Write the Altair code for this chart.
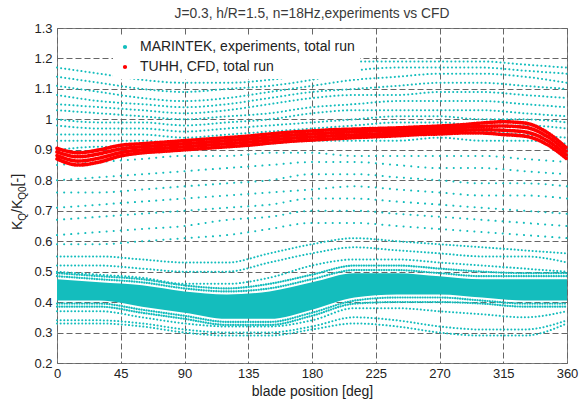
import altair as alt
import pandas as pd

# ---------------- data ----------------
deg30 = [0, 30, 60, 90, 120, 150, 180, 210, 240, 270, 300, 330, 360]
deg15 = [0, 15, 30, 45, 60, 75, 90, 105, 120, 135, 150, 165, 180,
         195, 210, 225, 240, 255, 270, 285, 300, 315, 330, 345, 360]

# MARINTEK experiments: upper group of tracks (blade position every 30 deg)
upper_tracks = {
    "U1":  [1.17, 1.15, 1.13, 1.12, 1.12, 1.13, 1.15, 1.19, 1.19, 1.19, 1.19, 1.18, 1.17],
    "U2":  [1.14, 1.12, 1.10, 1.09, 1.10, 1.11, 1.13, 1.16, 1.17, 1.17, 1.17, 1.16, 1.15],
    "U3":  [1.11, 1.09, 1.07, 1.06, 1.07, 1.09, 1.11, 1.13, 1.14, 1.15, 1.15, 1.14, 1.12],
    "U4":  [1.08, 1.06, 1.05, 1.04, 1.05, 1.07, 1.09, 1.10, 1.11, 1.12, 1.12, 1.11, 1.10],
    "U5":  [1.05, 1.04, 1.03, 1.02, 1.03, 1.05, 1.07, 1.08, 1.08, 1.09, 1.09, 1.08, 1.07],
    "U6":  [1.03, 1.02, 1.01, 1.00, 1.01, 1.02, 1.04, 1.05, 1.06, 1.06, 1.06, 1.05, 1.04],
    "U7":  [1.00, 0.99, 0.99, 0.98, 0.99, 1.00, 1.02, 1.03, 1.03, 1.03, 1.03, 1.02, 1.01],
    "U8":  [0.98, 0.97, 0.97, 0.96, 0.97, 0.98, 0.99, 1.00, 1.01, 1.01, 1.00, 1.00, 0.99],
    "U9":  [0.95, 0.95, 0.95, 0.94, 0.95, 0.96, 0.97, 0.98, 0.99, 0.99, 0.98, 0.98, 0.97],
    "U10": [0.93, 0.93, 0.93, 0.92, 0.93, 0.94, 0.95, 0.96, 0.96, 0.96, 0.96, 0.95, 0.94],
    "U11": [0.90, 0.91, 0.91, 0.90, 0.91, 0.92, 0.93, 0.93, 0.93, 0.94, 0.93, 0.93, 0.92],
}
# MARINTEK experiments: sparse middle tracks
middle_tracks = {
    "M1": [0.85, 0.86, 0.87, 0.88, 0.88, 0.89, 0.89, 0.88, 0.88, 0.88, 0.88, 0.87, 0.86],
    "M2": [0.80, 0.81, 0.82, 0.83, 0.84, 0.85, 0.86, 0.86, 0.85, 0.84, 0.84, 0.83, 0.82],
    "M3": [0.76, 0.76, 0.77, 0.78, 0.79, 0.80, 0.82, 0.82, 0.81, 0.80, 0.79, 0.79, 0.78],
    "M4": [0.71, 0.72, 0.73, 0.74, 0.75, 0.76, 0.77, 0.78, 0.77, 0.76, 0.75, 0.75, 0.74],
    "M5": [0.67, 0.68, 0.69, 0.70, 0.71, 0.72, 0.74, 0.74, 0.73, 0.72, 0.71, 0.70, 0.69],
    "M6": [0.62, 0.63, 0.64, 0.65, 0.67, 0.68, 0.70, 0.70, 0.69, 0.68, 0.67, 0.66, 0.65],
    "M7": [0.59, 0.59, 0.60, 0.61, 0.62, 0.64, 0.66, 0.66, 0.65, 0.64, 0.63, 0.62, 0.61],
}
# MARINTEK experiments: fringe of the dense lower band
lower_tracks = {
    "L0": [0.55, 0.55, 0.54, 0.53, 0.53, 0.56, 0.59, 0.61, 0.60, 0.59, 0.58, 0.57, 0.56],
    "L1": [0.52, 0.52, 0.51, 0.50, 0.50, 0.53, 0.56, 0.58, 0.57, 0.56, 0.55, 0.55, 0.53],
    "L2": [0.50, 0.49, 0.48, 0.46, 0.46, 0.48, 0.52, 0.54, 0.54, 0.53, 0.52, 0.51, 0.50],
    "B1": [0.37, 0.37, 0.35, 0.33, 0.32, 0.32, 0.34, 0.38, 0.38, 0.37, 0.36, 0.35, 0.37],
    "B2": [0.34, 0.34, 0.33, 0.31, 0.30, 0.30, 0.32, 0.35, 0.34, 0.32, 0.31, 0.31, 0.34],
    "B3": [0.33, 0.33, 0.32, 0.30, 0.29, 0.29, 0.31, 0.33, 0.32, 0.30, 0.29, 0.29, 0.33],
}
# edges of the dense lower band (densely dotted)
edge_tracks = {
    "E1": [0.485, 0.475, 0.465, 0.445, 0.435, 0.445, 0.475, 0.505, 0.505, 0.495, 0.485, 0.485, 0.485],
    "E2": [0.495, 0.485, 0.475, 0.455, 0.445, 0.460, 0.490, 0.520, 0.520, 0.510, 0.500, 0.495, 0.495],
    "E3": [0.395, 0.395, 0.375, 0.355, 0.335, 0.335, 0.365, 0.405, 0.415, 0.415, 0.405, 0.395, 0.395],
    "E4": [0.385, 0.385, 0.365, 0.345, 0.325, 0.325, 0.355, 0.395, 0.400, 0.400, 0.395, 0.385, 0.385],
}
# dense core of the lower band
band_upper = [0.475, 0.465, 0.455, 0.435, 0.425, 0.435, 0.465, 0.495, 0.495, 0.485, 0.475, 0.475, 0.475]
band_lower = [0.405, 0.405, 0.385, 0.365, 0.345, 0.345, 0.375, 0.415, 0.425, 0.425, 0.415, 0.405, 0.405]

# TUHH CFD (blade position every 15 deg)
red_tracks = {
    "R1": [0.905, 0.890, 0.900, 0.915, 0.920, 0.925, 0.930, 0.935, 0.940, 0.945, 0.952, 0.958, 0.962,
           0.966, 0.968, 0.970, 0.972, 0.975, 0.978, 0.982, 0.988, 0.992, 0.988, 0.960, 0.905],
    "R2": [0.893, 0.877, 0.887, 0.903, 0.910, 0.915, 0.920, 0.925, 0.930, 0.935, 0.942, 0.948, 0.952,
           0.956, 0.959, 0.962, 0.964, 0.967, 0.970, 0.973, 0.977, 0.978, 0.974, 0.947, 0.893],
    "R3": [0.881, 0.863, 0.873, 0.891, 0.900, 0.905, 0.910, 0.915, 0.920, 0.925, 0.932, 0.938, 0.942,
           0.946, 0.949, 0.952, 0.955, 0.958, 0.961, 0.964, 0.966, 0.964, 0.959, 0.933, 0.881],
    "R4": [0.870, 0.850, 0.860, 0.880, 0.890, 0.895, 0.900, 0.905, 0.910, 0.915, 0.922, 0.928, 0.932,
           0.936, 0.940, 0.943, 0.946, 0.950, 0.952, 0.955, 0.955, 0.950, 0.945, 0.920, 0.870],
}

series_names = ["MARINTEK, experiments, total run", "TUHH, CFD, total run"]
series_colors = ["#14BDBD", "#FF0000"]
x_ticks = [0, 45, 90, 135, 180, 225, 270, 315, 360]
y_ticks = [0.2, 0.3, 0.4, 0.5, 0.6, 0.7, 0.8, 0.9, 1, 1.1, 1.2, 1.3]
title_text = "J=0.3, h/R=1.5, n=18Hz,experiments vs CFD"
x_title = "blade position [deg]"

FONT = "Liberation Sans"


def tracks_df(tracks, xs, source):
    rows = []
    for name, vals in tracks.items():
        for d, v in zip(xs, vals):
            rows.append({"deg": d, "val": v, "track": name, "source": source})
    return pd.DataFrame(rows)


upper_df = tracks_df(upper_tracks, deg30, series_names[0])
middle_df = tracks_df(middle_tracks, deg30, series_names[0])
lower_df = tracks_df(lower_tracks, deg30, series_names[0])
edge_df = tracks_df(edge_tracks, deg30, series_names[0])
red_df = tracks_df(red_tracks, deg15, series_names[1])
band_df = pd.DataFrame({"deg": deg30, "lo": band_lower, "hi": band_upper})

x_scale = alt.Scale(domain=[0, 360], nice=False)
y_scale = alt.Scale(domain=[0.2, 1.3], nice=False, zero=False)
x_axis = alt.Axis(values=x_ticks, title=x_title, format="d",
                  labelOverlap=False, labelFlush=False)
y_axis = alt.Axis(values=y_ticks, title=None, format="~g",
                  labelOverlap=False, labelFlush=False)

x_enc = alt.X("deg:Q", scale=x_scale, axis=x_axis)
y_enc = alt.Y("val:Q", scale=y_scale, axis=y_axis)
color_enc = alt.Color(
    "source:N",
    scale=alt.Scale(domain=series_names, range=series_colors),
    legend=alt.Legend(
        title=None, orient="none", legendX=56, legendY=7,
        fillColor="white", padding=5, rowPadding=6,
        labelFont=FONT, labelFontSize=14, labelColor="#222222", labelLimit=400,
        labelOffset=8, symbolType="circle", symbolSize=5, symbolStrokeWidth=2,
    ),
)

band = alt.Chart(band_df).mark_area(color="#14BDBD", interpolate="monotone").encode(
    x=alt.X("deg:Q", scale=x_scale, axis=x_axis),
    y=alt.Y("lo:Q", scale=y_scale, axis=y_axis),
    y2="hi:Q",
)


def dotted(df, width, dash):
    return alt.Chart(df).mark_line(
        strokeWidth=width, strokeDash=dash, strokeCap="round", interpolate="monotone"
    ).encode(x=x_enc, y=y_enc, detail="track:N", color=color_enc)


upper = dotted(upper_df, 2, [0.1, 4])
middle = dotted(middle_df, 2, [0.1, 7])
lower = dotted(lower_df, 2, [0.1, 3.5])
edges = dotted(edge_df, 2.2, [0.1, 2.4])
red = dotted(red_df, 3.6, [1.0, 1.6])


def label(t, size, xpx, ypx, angle=270, align="left", color="#222222"):
    return alt.Chart(pd.DataFrame({"t": [t]})).mark_text(
        angle=angle, align=align, baseline="alphabetic", fontSize=size,
        font=FONT, color=color
    ).encode(x=alt.value(xpx), y=alt.value(ypx), text="t:N")


ytitle = (label("K", 14, -35, 202) + label("Q", 10, -31, 192.7)
          + label("/K", 14, -35, 184.9) + label("Q0", 10, -31, 171.7)
          + label(" [-]", 14, -35, 158.4))
title = label(title_text, 13.8, 255, -10, angle=0, align="center", color="#3a3a3a")

chart = alt.layer(band, upper, middle, lower, edges, red, ytitle, title).properties(
    width=510, height=335,
    autosize=alt.AutoSizeParams(type="none"),
    padding={"left": 57, "top": 28, "right": 12, "bottom": 42},
).configure_view(
    stroke="#808080", strokeWidth=1
).configure_axis(
    grid=True, gridColor="#666666", gridDash=[6, 3], gridWidth=1, gridOpacity=1,
    domain=False, ticks=False, labelFont=FONT, labelFontSize=13, labelColor="#222222",
    titleFont=FONT, titleFontSize=14, titleFontWeight="normal", titleColor="#222222",
).configure_axisX(
    labelPadding=4, titlePadding=4
).configure_axisY(
    labelPadding=5
)

chart.save("out.html", embed_options={"renderer": "svg", "actions": False})
